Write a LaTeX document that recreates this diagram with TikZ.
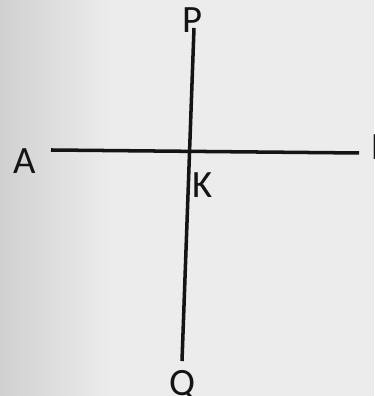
\documentclass[tikz,border=0pt]{standalone}
\usepackage{fontspec}
\setmainfont{Carlito}
\definecolor{PaperDark}{RGB}{208,208,208}
\definecolor{PaperLight}{RGB}{236,236,236}
\definecolor{InkBlack}{RGB}{20,20,20}
\usepackage{tikz}
\usetikzlibrary{
    positioning,
    calc,
}

\begin{document}
\begin{tikzpicture}[
    seg/.style={draw=InkBlack, line width=2pt},
    plabel/.style={font=\fontsize{22}{24}\selectfont, text=InkBlack, inner sep=0pt}
]
    \useasboundingbox (0,0) rectangle (7.48,7.92);
    \clip (0,0) rectangle (7.48,7.92);
    \fill[PaperLight] (0,0) rectangle (7.48,7.92);
    \shade[left color=PaperDark, right color=PaperLight] (0,0) rectangle (2.2,7.92);
    % line ends
    \coordinate (aEnd) at (1.02,4.92);
    \coordinate (bEnd) at (7.18,4.86);
    \coordinate (pEnd) at (3.88,7.36);
    \coordinate (qEnd) at (3.64,0.70);
    \draw[seg] (aEnd) -- (bEnd);
    \draw[seg] (pEnd) -- (qEnd);
    \node[plabel] (P) at (3.84,7.52) {P};
    \node[plabel] (A) at (0.50,4.70) {A};
    \node[plabel] (K) at (4.06,4.22) {K};
    \node[plabel] (Q) at (3.66,0.20) {Q};
    \node[plabel, anchor=west] (B) at (7.42,4.98) {B};
\end{tikzpicture}
\end{document}
